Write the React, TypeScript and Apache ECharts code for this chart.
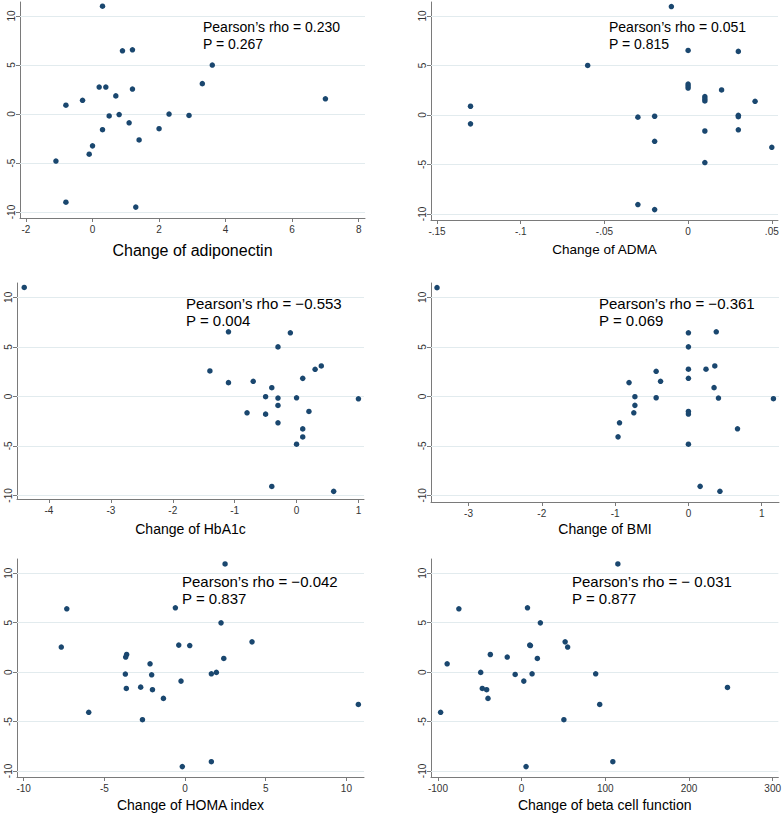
import React, { useEffect, useRef } from "react";
import * as echarts from "echarts";

// ---------- tick values ----------
const yTicks = [-10, -5, 0, 5, 10];
const adiponectinTicks = [-2, 0, 2, 4, 6, 8];
const admaTicks = [-0.15, -0.1, -0.05, 0, 0.05];
const hba1cTicks = [-4, -3, -2, -1, 0, 1];
const bmiTicks = [-3, -2, -1, 0, 1];
const homaTicks = [-10, -5, 0, 5, 10];
const betaTicks = [-100, 0, 100, 200, 300];

// ---------- data: [x change, y change] ----------
const adiponectinPoints = [
  [0.3, 11.0], [0.9, 6.45], [1.2, 6.55], [3.6, 5.0], [3.3, 3.1], [0.2, 2.75],
  [0.4, 2.75], [1.2, 2.55], [0.7, 1.85], [-0.3, 1.4], [-0.8, 0.9], [7.0, 1.55],
  [0.5, -0.2], [0.8, -0.05], [2.3, 0.0], [2.9, -0.15], [1.1, -0.9], [0.3, -1.6],
  [2.0, -1.5], [1.4, -2.65], [0.0, -3.25], [-0.1, -4.1], [-1.1, -4.8],
  [-0.8, -9.0], [1.3, -9.5],
];
const admaPoints = [
  [-0.13, 0.88], [-0.13, -0.9], [-0.06, 5.0], [-0.03, -0.22], [-0.03, -9.05],
  [-0.01, 10.95], [0.0, 6.52], [0.03, 6.42], [0.0, 3.12], [0.0, 2.92], [0.0, 2.72],
  [0.02, 2.53], [0.01, 1.85], [0.01, 1.62], [0.01, 1.42], [0.04, 1.38],
  [-0.02, -0.13], [0.03, -0.03], [0.03, -0.17], [0.01, -1.62], [0.03, -1.5],
  [-0.02, -2.66], [0.05, -3.27], [0.01, -4.81], [-0.02, -9.56],
];
const hba1cPoints = [
  [-4.4, 11.0], [-1.1, 6.52], [-0.1, 6.42], [-0.3, 5.0], [-1.4, 2.57], [0.4, 3.07],
  [0.3, 2.74], [0.1, 1.82], [-1.1, 1.39], [-0.7, 1.52], [-0.4, 0.88], [-0.5, -0.03],
  [-0.3, -0.17], [0.0, -0.14], [1.0, -0.24], [-0.3, -0.91], [-0.8, -1.66],
  [-0.5, -1.79], [0.2, -1.52], [-0.3, -2.67], [0.1, -3.28], [0.1, -4.09],
  [0.0, -4.83], [-0.4, -9.09], [0.6, -9.59],
];
const bmiPoints = [
  [-3.43, 10.98], [0.0, 6.42], [0.38, 6.52], [0.0, 5.0], [0.36, 3.07], [0.0, 2.74],
  [0.24, 2.74], [-0.44, 2.53], [0.0, 1.82], [-0.38, 1.52], [-0.81, 1.39],
  [0.35, 0.88], [-0.73, -0.03], [-0.44, -0.14], [0.41, -0.17], [1.16, -0.24],
  [-0.73, -0.91], [-0.745, -1.66], [0.0, -1.52], [0.0, -1.79], [-0.94, -2.67],
  [0.67, -3.28], [-0.96, -4.09], [0.0, -4.83], [0.16, -9.09], [0.43, -9.59],
];
const homaPoints = [
  [2.48, 10.94], [-7.33, 6.4], [-0.6, 6.5], [2.23, 4.98], [-7.67, 2.53], [4.15, 3.06],
  [-0.39, 2.73], [0.29, 2.69], [-3.62, 1.78], [-3.68, 1.52], [2.4, 1.38],
  [-2.17, 0.84], [-3.7, -0.2], [-2.07, -0.27], [1.63, -0.17], [1.94, -0.03],
  [-0.25, -0.91], [-3.64, -1.65], [-2.75, -1.52], [-2.02, -1.78], [-1.34, -2.66],
  [-5.97, -4.07], [-2.64, -4.81], [10.74, -3.27], [1.63, -9.06], [-0.17, -9.56],
];
const betaPoints = [
  [115, 10.94], [-75, 6.4], [7, 6.5], [22.4, 4.98], [52, 3.06], [55, 2.53],
  [9.7, 2.73], [10.5, 2.69], [-37.4, 1.78], [-17.2, 1.52], [18.8, 1.38], [-89, 0.84],
  [-48.9, -0.03], [-7.7, -0.24], [12.5, -0.17], [88.5, -0.17], [2.6, -0.91],
  [-47, -1.65], [-41.8, -1.78], [246, -1.55], [-40.2, -2.66], [93.3, -3.27],
  [-96.8, -4.07], [50.5, -4.81], [109, -9.06], [5.3, -9.56],
];

const xTitles = [
  "Change of adiponectin", "Change of ADMA", "Change of HbA1c",
  "Change of BMI", "Change of HOMA index", "Change of beta cell function",
];
const rhoTexts = [
  "Pearson\u2019s rho = 0.230", "Pearson\u2019s rho = 0.051", "Pearson\u2019s rho = \u22120.553",
  "Pearson\u2019s rho = \u22120.361", "Pearson\u2019s rho = \u22120.042", "Pearson\u2019s rho = \u2212 0.031",
];
const pTexts = ["P = 0.267", "P = 0.815", "P = 0.004", "P = 0.069", "P = 0.837", "P = 0.877"];

const allPoints = [adiponectinPoints, admaPoints, hba1cPoints, bmiPoints, homaPoints, betaPoints];
const allXTicks = [adiponectinTicks, admaTicks, hba1cTicks, bmiTicks, homaTicks, betaTicks];

// ---------- layout (pixels) ----------
const layout = [
  { left: 20, top: 2, width: 345, height: 216, xMin: -2.18, xMax: 8.19, yMin: -10.61, yMax: 11.43, nameSize: 16, nameGap: 24, annX: 203, annY: 27, annSize: 14 },
  { left: 431, top: 2, width: 347, height: 218, xMin: -0.1536, xMax: 0.0537, yMin: -10.61, yMax: 11.41, nameSize: 13.5, nameGap: 22, annX: 609, annY: 27, annSize: 14 },
  { left: 17, top: 283, width: 347, height: 216, xMin: -4.517, xMax: 1.09, yMin: -10.36, yMax: 11.45, nameSize: 14, nameGap: 23, annX: 186, annY: 303, annSize: 15 },
  { left: 431, top: 283, width: 348, height: 219, xMin: -3.512, xMax: 1.236, yMin: -10.67, yMax: 11.45, nameSize: 14, nameGap: 20, annX: 599, annY: 303, annSize: 15 },
  { left: 17, top: 559, width: 347, height: 218, xMin: -10.415, xMax: 11.09, yMin: -10.61, yMax: 11.44, nameSize: 14, nameGap: 21, annX: 182, annY: 581, annSize: 15 },
  { left: 431, top: 559, width: 349, height: 218, xMin: -108.3, xMax: 306.8, yMin: -10.61, yMax: 11.44, nameSize: 14, nameGap: 21, annX: 572, annY: 581, annSize: 15 },
];

const FONT = "Liberation Sans, Arial, Helvetica, sans-serif";
const DOT = "#1a476f";
const GRIDLINE = "#e2ebee";
const AXIS = "#7a7a7a";

function fmtAdma(v: number): string {
  if (v === 0) return "0";
  const s = String(Math.abs(v)).replace(/^0/, "");
  return (v < 0 ? "-" : "") + s;
}

export default function App() {
  const ref = useRef<HTMLDivElement>(null);

  useEffect(() => {
    document.body.style.margin = "0";
    if (!ref.current) return;
    const chart = echarts.init(ref.current, null, { renderer: "svg" });

    const grid = layout.map((l) => ({ left: l.left, top: l.top, width: l.width, height: l.height, containLabel: false }));

    const xAxis = layout.map((l, i) => ({
      type: "value",
      gridIndex: i,
      min: l.xMin,
      max: l.xMax,
      name: xTitles[i],
      nameLocation: "middle",
      nameGap: l.nameGap,
      nameTextStyle: { fontSize: l.nameSize, color: "#000", fontFamily: FONT },
      axisLine: { show: true, onZero: false, lineStyle: { color: AXIS, width: 1 } },
      axisTick: { show: true, length: 4, customValues: allXTicks[i], lineStyle: { color: AXIS } },
      axisLabel: {
        show: true,
        customValues: allXTicks[i],
        fontSize: 10,
        color: "#333",
        fontFamily: FONT,
        margin: 6,
        formatter: i === 1 ? (v: number) => fmtAdma(v) : (v: number) => String(v),
      },
      splitLine: { show: false },
    }));

    const yAxis = layout.map((l, i) => ({
      type: "value",
      gridIndex: i,
      min: l.yMin,
      max: l.yMax,
      axisLine: { show: true, onZero: false, lineStyle: { color: AXIS, width: 1 } },
      axisTick: { show: true, length: 4, customValues: yTicks, lineStyle: { color: AXIS } },
      axisLabel: {
        show: true,
        customValues: yTicks,
        rotate: 90,
        fontSize: 10,
        color: "#333",
        fontFamily: FONT,
        margin: 4,
        formatter: (v: number) => String(v),
      },
      splitLine: { show: false },
    }));

    const series = allPoints.map((pts, i) => ({
      type: "scatter",
      xAxisIndex: i,
      yAxisIndex: i,
      data: pts,
      symbol: "circle",
      symbolSize: 5.5,
      itemStyle: { color: DOT, opacity: 1 },
      z: 3,
      markLine: {
        silent: true,
        z: 1,
        symbol: ["none", "none"],
        label: { show: false },
        lineStyle: { color: GRIDLINE, width: 1, type: "solid" },
        emphasis: { disabled: true },
        data: yTicks.map((v) => ({ yAxis: v })),
      },
    }));

    const graphic: any[] = [];
    layout.forEach((l, i) => {
      graphic.push({
        type: "text",
        x: l.annX,
        y: l.annY,
        style: { text: rhoTexts[i], fill: "#000", font: `${l.annSize}px ${FONT}`, align: "left", verticalAlign: "middle" },
      });
      graphic.push({
        type: "text",
        x: l.annX,
        y: l.annY + 17,
        style: { text: pTexts[i], fill: "#000", font: `${l.annSize}px ${FONT}`, align: "left", verticalAlign: "middle" },
      });
    });

    chart.setOption({
      animation: false,
      backgroundColor: "#ffffff",
      textStyle: { fontFamily: FONT },
      grid,
      xAxis,
      yAxis,
      series,
      graphic,
    } as any);

    return () => chart.dispose();
  }, []);

  return <div ref={ref} style={{ width: 784, height: 813 }} />;
}
